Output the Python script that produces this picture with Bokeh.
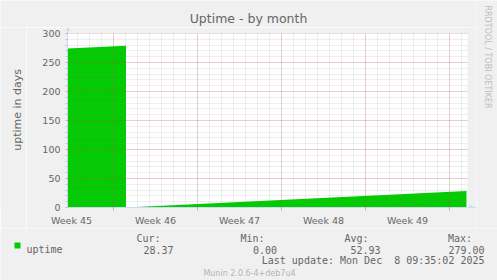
import math
import pandas as pd
from bokeh.plotting import figure
from bokeh.layouts import row, column
from bokeh.models import (FixedTicker, Range1d, PolyAnnotation, BoxAnnotation,
                          ColumnDataSource)
from bokeh.core.properties import value
from bokeh.embed import file_html
from bokeh.resources import INLINE

# ---------------- data ----------------
title_text = "Uptime - by month"
y_label_text = "uptime in days"
series_name = "uptime"
times = ["2025-11-05 04:00", "2025-11-10 01:00", "2025-11-10 01:00", "2025-12-08 10:00"]
uptime_days = [274.1, 279.0, 0.0, 28.37]
y_ticks = [0, 50, 100, 150, 200, 250, 300]
y_minor_ticks = list(range(0, 301, 10))
week_starts = ["2025-11-09", "2025-11-16", "2025-11-23", "2025-11-30", "2025-12-07"]
week_label_times = ["2025-11-05 12:00", "2025-11-12 12:00", "2025-11-19 12:00",
                    "2025-11-26 12:00", "2025-12-03 12:00"]
week_labels = ["Week 45", "Week 46", "Week 47", "Week 48", "Week 49"]
stat_heads = ["Cur:", "Min:", "Avg:", "Max:"]
stat_values = ["28.37", "0.00", "52.93", "279.00"]
last_update = "Last update: Mon Dec \u00a08 09:35:02 2025"
footer_text = "Munin 2.0.6-4+deb7u4"
watermark_text = "RRDTOOL / TOBI OETIKER"
x_start_time = "2025-11-05 04:00"
x_end_time = "2025-12-08 12:00"


def ms(t):
    return pd.Timestamp(t).value // 10**6


FONT_COL = "#666666"
AXIS_COL = "#CFD6F8"
GREEN = "#00CC00"
BACK = "#F0F0F0"
MGRID = "#C83232"
GRID = "#8C8C8C"
MONO = "DejaVu Sans Mono"
SANS = "DejaVu Sans"


def text_fig(w, h):
    f = figure(width=w, height=h, output_backend="svg", toolbar_location=None,
               title=None, x_axis_location=None, y_axis_location=None,
               x_range=Range1d(0, w), y_range=Range1d(h, 0), min_border=0)
    f.grid.visible = False
    f.outline_line_color = None
    f.background_fill_color = BACK
    f.border_fill_color = BACK
    return f


def put(f, xs, ys, texts, size, font=SANS, align="left", color=FONT_COL, angle=0.0):
    f.text(x=xs, y=ys, text=texts, text_font=value(font), text_font_size=value(size),
           text_color=color, text_align=align, text_baseline="alphabetic", angle=angle)


# ---------------- main plot (canvas offset 26, 27) ----------------
TOP = 27
x0, x1 = ms(x_start_time), ms(x_end_time)
src = ColumnDataSource(dict(x=[ms(t) for t in times], y=uptime_days))

p = figure(width=450, height=228 - TOP, output_backend="svg", toolbar_location=None,
           title=None,
           x_range=Range1d(x0, x0 + (x1 - x0) * 409 / 400.0),
           y_range=Range1d(0, 300 * (208 - TOP) / 175.0),
           min_border_left=41, min_border_right=0, min_border_top=0,
           min_border_bottom=20)
p.background_fill_color = "white"
p.border_fill_color = BACK
p.outline_line_color = None

p.varea(x="x", y1=0, y2="y", source=src, fill_color=GREEN, fill_alpha=1.0)

day_ticks = [ms(t) for t in pd.date_range("2025-11-06", "2025-12-08", freq="D")]
p.xgrid.ticker = FixedTicker(ticks=[ms(t) for t in week_starts], minor_ticks=day_ticks)
p.ygrid.ticker = FixedTicker(ticks=y_ticks, minor_ticks=y_minor_ticks)
for g in (p.xgrid, p.ygrid):
    g.level = "guide"
    g.grid_line_color = MGRID
    g.grid_line_alpha = 0.35
    g.grid_line_dash = "1 1"
    g.minor_grid_line_color = GRID
    g.minor_grid_line_alpha = 0.3
    g.minor_grid_line_dash = "1 1"

# grey cover outside the data area (frame is a bit larger for the arrows)
for kw in (dict(bottom=300), dict(left=x1)):
    p.add_layout(BoxAnnotation(fill_color=BACK, fill_alpha=1.0, line_color=None,
                               level="annotation", **kw))

xa = p.xaxis[0]
xa.ticker = FixedTicker(ticks=[ms(t) for t in week_label_times],
                        minor_ticks=[ms(t) for t in week_starts])
xa.major_label_overrides = {ms(t): lab for t, lab in zip(week_label_times, week_labels)}
xa.major_tick_line_color = None
xa.major_tick_out = 0
xa.major_tick_in = 0
xa.minor_tick_out = 3
xa.minor_tick_in = 0
xa.minor_tick_line_color = "#E8A0A0"
xa.axis_line_color = AXIS_COL
xa.major_label_standoff = 4
xa.major_label_text_font = SANS
xa.major_label_text_font_size = "9.5px"
xa.major_label_text_color = FONT_COL

ya = p.yaxis[0]
ya.ticker = FixedTicker(ticks=y_ticks, minor_ticks=y_minor_ticks)
ya.major_tick_out = 2
ya.major_tick_in = 0
ya.minor_tick_out = 2
ya.minor_tick_in = 0
ya.major_tick_line_color = "#E8A0A0"
ya.minor_tick_line_color = "#C8C8C8"
ya.axis_line_color = AXIS_COL
ya.major_label_standoff = 5
ya.major_label_text_font = SANS
ya.major_label_text_font_size = "9.5px"
ya.major_label_text_color = FONT_COL

# arrows (screen units relative to frame's bottom-left; canvas px given)
FL, FB = 67, 208
for xs, ys in [([66.5, 67.5, 67.5, 66.5], [33.5, 33.5, 31, 31]),
               ([64, 70, 67], [31.5, 31.5, 27.2]),
               ([467, 469.5, 469.5, 467], [207.5, 207.5, 208.5, 208.5]),
               ([469, 474.5, 469], [205, 208, 211])]:
    p.add_layout(PolyAnnotation(xs=[v - FL for v in xs], ys=[FB - v for v in ys],
                                xs_units="screen", ys_units="screen",
                                fill_color=AXIS_COL, fill_alpha=1.0, line_color=None,
                                level="overlay"))

# ---------------- text panels ----------------
f_title = text_fig(476, TOP)
put(f_title, [248], [17.5], [title_text], "12.5px", align="center")

f_ylab = text_fig(26, 228 - TOP)
put(f_ylab, [16.5], [119 - TOP], [y_label_text], "11px", align="center", angle=math.pi / 2)

f_wm = text_fig(21, 228)
put(f_wm, [486.5 - 476], [56.5], [watermark_text], "8px", align="center",
    color="#BDBDBD", angle=-math.pi / 2)

f_leg = text_fig(497, 52)
OY = 228
head_x = [136, 240, 344, 447.5]
val_x = [173, 276.5, 380, 484]
put(f_leg, head_x, [238 - OY] * 4, stat_heads, "10px", font=MONO)
put(f_leg, val_x, [249 - OY] * 4, stat_values, "10px", font=MONO, align="right")
put(f_leg, [26], [249 - OY], [series_name], "10px", font=MONO)
put(f_leg, [484], [260 - OY], [last_update], "10px", font=MONO, align="right")
put(f_leg, [249], [272.5 - OY], [footer_text], "8px", align="center", color="#B4B4B4")
f_leg.quad(left=[14], right=[20], top=[242 - OY], bottom=[248 - OY],
           fill_color=GREEN, line_color=None)

layout = column(
    row(column(f_title, row(f_ylab, p, spacing=0), spacing=0), f_wm, spacing=0),
    f_leg, spacing=0)

open("out.html", "w").write(file_html(layout, INLINE))
